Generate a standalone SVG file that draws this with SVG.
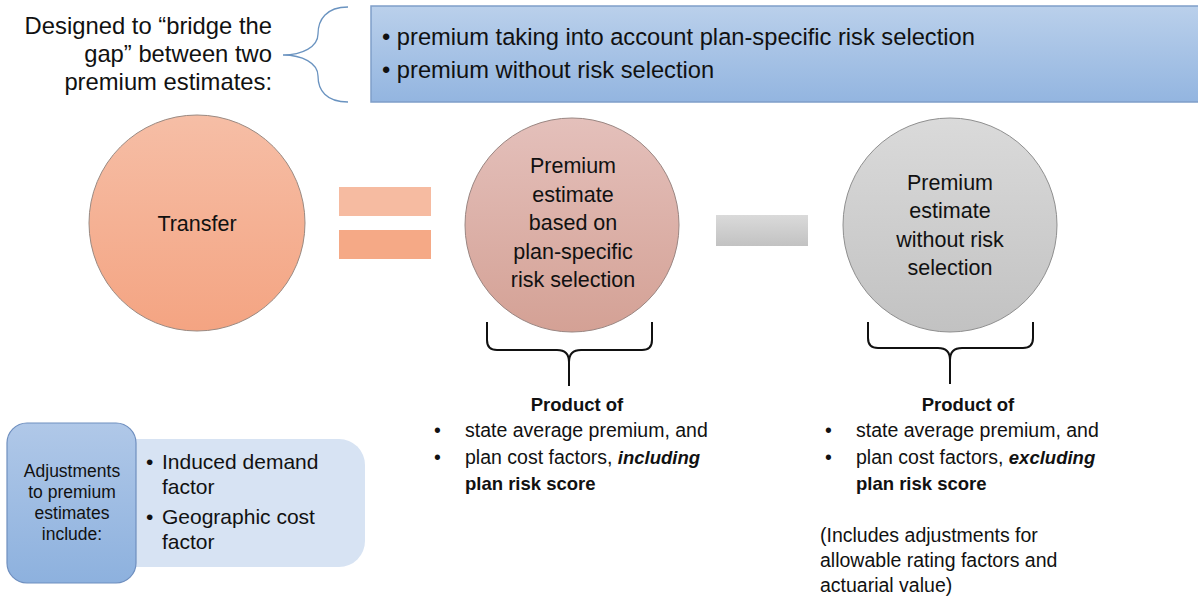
<svg xmlns="http://www.w3.org/2000/svg" width="1198" height="598" viewBox="0 0 1198 598">
<style>
text{font-family:"Liberation Sans",Arial,sans-serif;fill:#111}
.c{font-size:21.5px;text-anchor:middle}
.b{font-size:19.5px}
.bd{font-weight:bold;font-size:18.5px}
.brace{fill:none;stroke:#111;stroke-width:2}
</style>
<defs>
<linearGradient id="gOr" x1="0" y1="0" x2="0" y2="1"><stop offset="0" stop-color="#f6bea6"/><stop offset="1" stop-color="#f4a482"/></linearGradient>
<linearGradient id="gPk" x1="0" y1="0" x2="0" y2="1"><stop offset="0" stop-color="#e4c0bb"/><stop offset="1" stop-color="#d4a195"/></linearGradient>
<linearGradient id="gGr" x1="0" y1="0" x2="0" y2="1"><stop offset="0" stop-color="#dadada"/><stop offset="1" stop-color="#c2c2c2"/></linearGradient>
<linearGradient id="gBl" x1="0" y1="0" x2="0" y2="1"><stop offset="0" stop-color="#bad0eb"/><stop offset="1" stop-color="#93b5e0"/></linearGradient>
<linearGradient id="gBl2" x1="0" y1="0" x2="0" y2="1"><stop offset="0" stop-color="#b0c8e8"/><stop offset="1" stop-color="#8db1de"/></linearGradient>
</defs>

<g id="intro">
<text x="272" y="34" font-size="23.8" text-anchor="end">Designed to “bridge the</text>
<text x="272" y="62" font-size="23.8" text-anchor="end">gap” between two</text>
<text x="272" y="90" font-size="23.8" text-anchor="end">premium estimates:</text>
</g>

<g id="connectors">
<path d="M348,7 C326,7 318,20 318,34 C318,47 302,55 283,55 C302,55 318,63 318,76 C318,90 326,102 348,102" fill="none" stroke="#6a93c0" stroke-width="1.3"/>
<path class="brace" d="M487,322 V340 Q487,350 497,350 H557 Q569,350 569,362 Q569,350 581,350 H642 Q652,350 652,340 V322 M569,362 V386"/>
<path class="brace" d="M868,322 V338 Q868,348 878,348 H938 Q950,348 950,360 Q950,348 962,348 H1023 Q1033,348 1033,338 V322 M950,360 V384"/>
</g>

<g id="estimates-box">
<rect x="371" y="6" width="840" height="96" fill="url(#gBl)" stroke="#7f9ec9" stroke-width="1.5"/>
<text x="382" y="45" font-size="23.7">• premium taking into account plan-specific risk selection</text>
<text x="382" y="78" font-size="23.7">• premium without risk selection</text>
</g>

<g id="transfer">
<circle cx="197" cy="223" r="108" fill="url(#gOr)" stroke="#9a8a82" stroke-width="1"/>
<text class="c" x="197" y="231">Transfer</text>
</g>

<g id="equals">
<rect x="339" y="187" width="92" height="29" fill="#f6bba1"/>
<rect x="339" y="230" width="92" height="29" fill="#f5a986"/>
</g>

<g id="with-risk">
<circle cx="572" cy="225" r="107" fill="url(#gPk)" stroke="#9a8682" stroke-width="1"/>
<text class="c" x="573" y="173">Premium</text>
<text class="c" x="573" y="201.5">estimate</text>
<text class="c" x="573" y="230">based on</text>
<text class="c" x="573" y="258.5">plan-specific</text>
<text class="c" x="573" y="287">risk selection</text>
</g>

<g id="minus">
<rect x="716" y="215" width="92" height="31" fill="url(#gGr)"/>
</g>

<g id="without-risk">
<circle cx="950" cy="225" r="107" fill="url(#gGr)" stroke="#8f8f8f" stroke-width="1"/>
<text class="c" x="950" y="190">Premium</text>
<text class="c" x="950" y="218">estimate</text>
<text class="c" x="950" y="247">without risk</text>
<text class="c" x="950" y="275">selection</text>
</g>

<g id="product-with">
<text class="bd" x="577" y="411" text-anchor="middle">Product of</text>
<text class="b" x="434" y="437">•</text>
<text class="b" x="465" y="437">state average premium, and</text>
<text class="b" x="434" y="464">•</text>
<text class="b" x="465" y="464">plan cost factors, <tspan font-weight="bold" font-style="italic" font-size="18.5">including</tspan></text>
<text class="bd" x="465" y="490">plan risk score</text>
</g>

<g id="product-without">
<text class="bd" x="968" y="411" text-anchor="middle">Product of</text>
<text class="b" x="825" y="437">•</text>
<text class="b" x="856" y="437">state average premium, and</text>
<text class="b" x="825" y="464">•</text>
<text class="b" x="856" y="464">plan cost factors, <tspan font-weight="bold" font-style="italic" font-size="18.5">excluding</tspan></text>
<text class="bd" x="856" y="490">plan risk score</text>
<text class="b" x="820" y="542">(Includes adjustments for</text>
<text class="b" x="820" y="567">allowable rating factors and</text>
<text class="b" x="820" y="592">actuarial value)</text>
</g>

<g id="adjustments">
<rect x="110" y="439" width="255" height="128" rx="26" fill="#d7e3f3"/>
<rect x="7" y="423" width="129" height="160" rx="20" fill="url(#gBl2)" stroke="#6f8fbf" stroke-width="1.2"/>
<text x="72" y="477" font-size="17.5" text-anchor="middle">Adjustments</text>
<text x="72" y="498" font-size="17.5" text-anchor="middle">to premium</text>
<text x="72" y="519" font-size="17.5" text-anchor="middle">estimates</text>
<text x="72" y="540" font-size="17.5" text-anchor="middle">include:</text>
<text x="146" y="469" font-size="21">•</text>
<text x="162" y="469" font-size="21">Induced demand</text>
<text x="162" y="494" font-size="21">factor</text>
<text x="146" y="524" font-size="21">•</text>
<text x="162" y="524" font-size="21">Geographic cost</text>
<text x="162" y="549" font-size="21">factor</text>
</g>
</svg>
